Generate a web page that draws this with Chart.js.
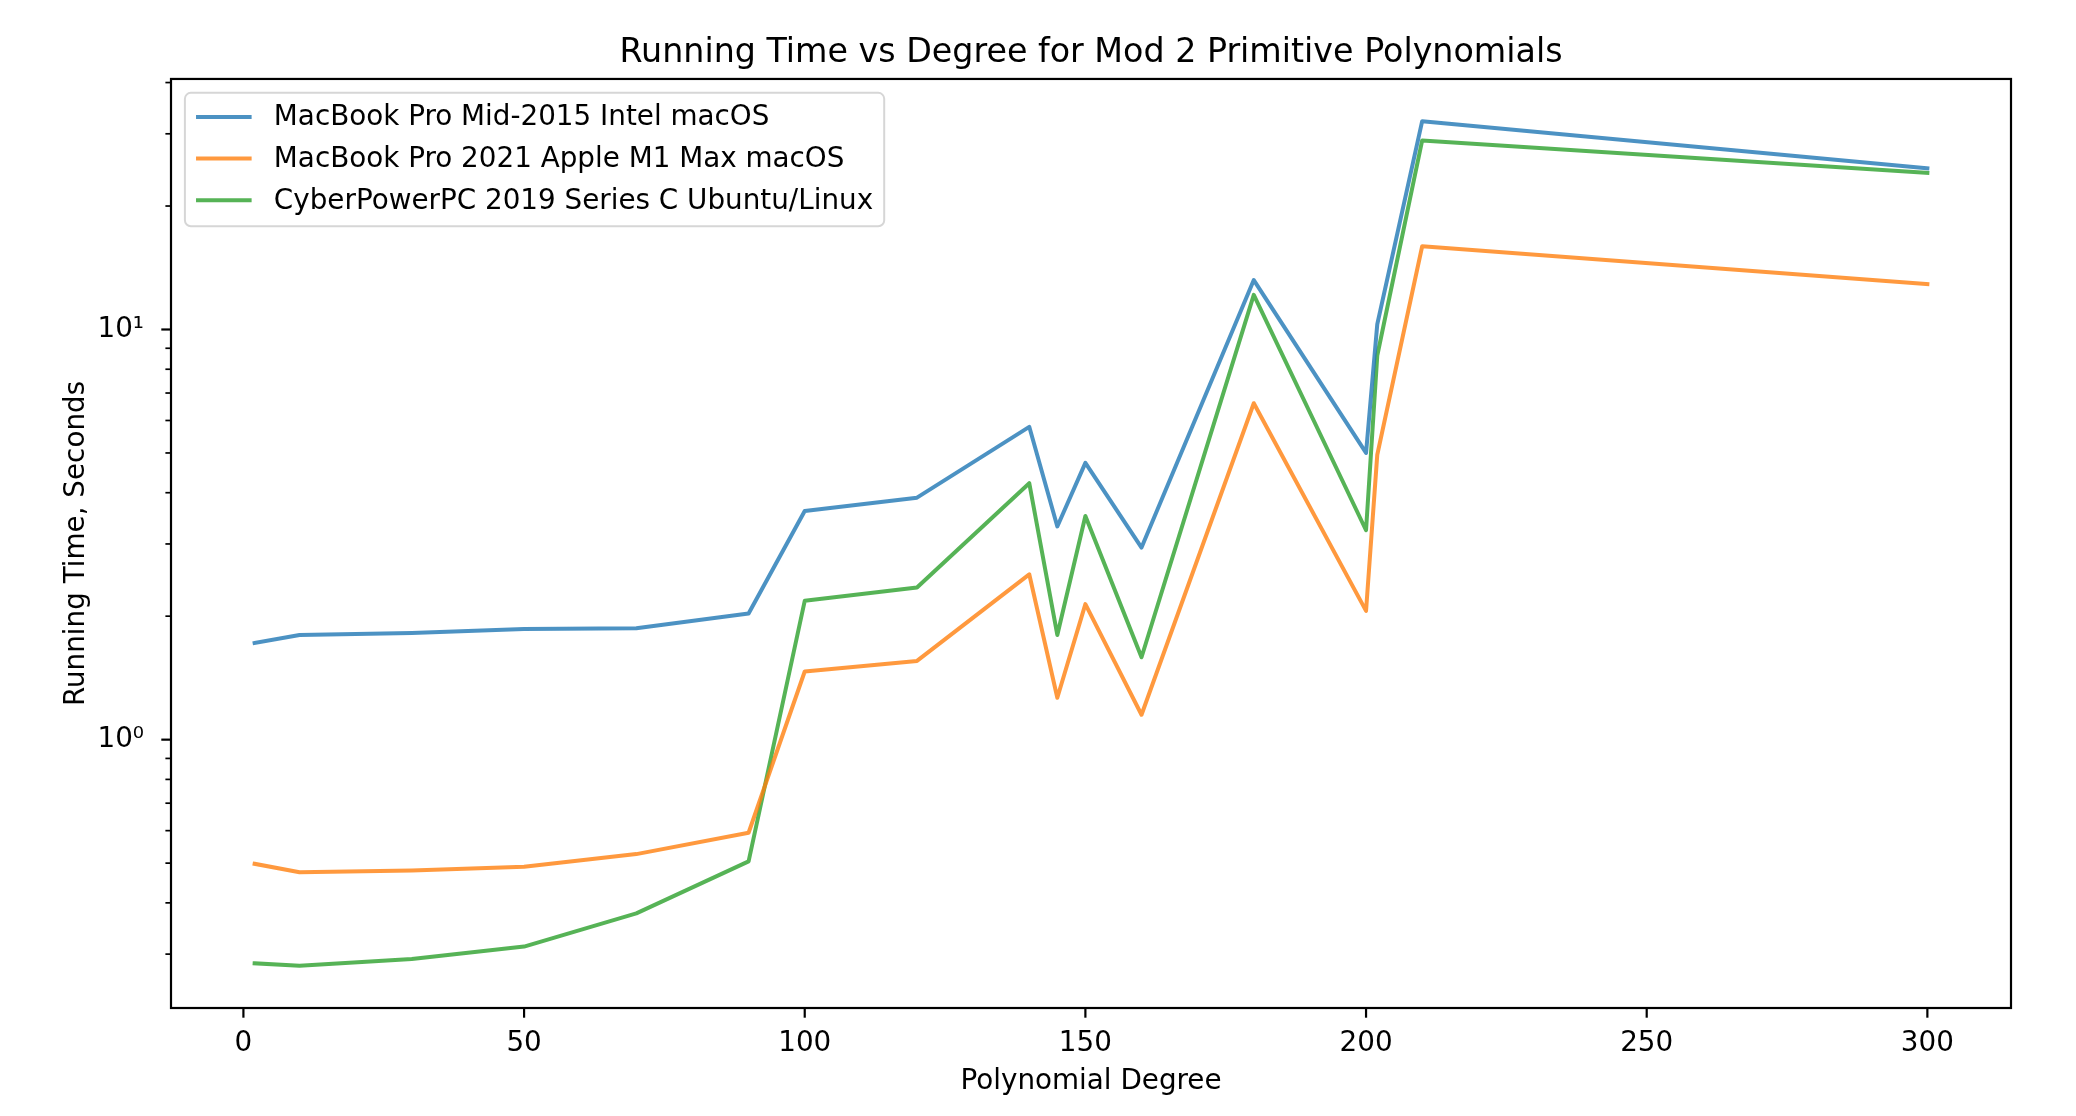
<!DOCTYPE html>
<html>
<head>
<meta charset="utf-8">
<title>Running Time vs Degree</title>
<script src="https://cdn.jsdelivr.net/npm/chart.js@4.4.0/dist/chart.umd.min.js"></script>
<style>
    html, body { margin: 0; padding: 0; background: #ffffff; }
</style>
</head>
<body>
<canvas id="runChart" width="2076" height="1116"></canvas>
<script>
// Polynomial degrees that were timed
const degrees = [2, 10, 30, 50, 70, 90, 100, 120, 140, 145, 150, 160, 180, 200, 202, 210, 300];

// Running times in seconds, one array per machine
const intelTimes = [1.72, 1.80, 1.82, 1.86, 1.87, 2.03, 3.61, 3.89, 5.79, 3.31, 4.73, 2.94, 13.2, 5.00, 10.3, 32.2, 24.7];
const m1Times = [0.498, 0.475, 0.480, 0.490, 0.526, 0.593, 1.466, 1.556, 2.53, 1.265, 2.14, 1.15, 6.61, 2.06, 4.95, 15.96, 12.9];
const linuxTimes = [0.285, 0.281, 0.292, 0.313, 0.377, 0.505, 2.18, 2.35, 4.22, 1.80, 3.51, 1.588, 12.15, 3.24, 8.64, 28.9, 24.1];

const seriesLabels = [
    'MacBook Pro Mid-2015 Intel macOS',
    'MacBook Pro 2021 Apple M1 Max macOS',
    'CyberPowerPC 2019 Series C Ubuntu/Linux'
];

// Tick positions and labels
const xTickValues = [0, 50, 100, 150, 200, 250, 300];
const yTickValues = [0.3, 0.4, 0.5, 0.6, 0.7, 0.8, 0.9, 1, 2, 3, 4, 5, 6, 7, 8, 9, 10, 20, 30, 40];
const yMajorValues = [1, 10];
const yMajorLabels = ['10⁰', '10¹'];

const FONT = '"DejaVu Sans", "Liberation Sans", sans-serif';
const FS = 27.8; // 10pt at 200 dpi

const colors = ['rgba(31, 119, 180, 0.8)', 'rgba(255, 127, 14, 0.8)', 'rgba(44, 160, 44, 0.8)'];

// matplotlib style 5% margins (log space for y)
const allTimes = intelTimes.concat(m1Times, linuxTimes);
const xSpan = Math.max(...degrees) - Math.min(...degrees);
const xMin = Math.min(...degrees) - 0.05 * xSpan;
const xMax = Math.max(...degrees) + 0.05 * xSpan;
const lMin = Math.log10(Math.min(...allTimes));
const lMax = Math.log10(Math.max(...allTimes));
const yMin = Math.pow(10, lMin - 0.05 * (lMax - lMin));
const yMax = Math.pow(10, lMax + 0.05 * (lMax - lMin));

function toPoints(values) {
    return degrees.map((d, i) => ({ x: d, y: values[i] }));
}

// Frame and tick marks drawn like matplotlib spines
const frameTicks = {
    id: 'frameTicks',
    afterDatasetsDraw(chart) {
        const { ctx, chartArea, scales } = chart;
        ctx.save();
        ctx.strokeStyle = '#000';
        ctx.lineWidth = 2.2;
        ctx.strokeRect(chartArea.left, chartArea.top, chartArea.right - chartArea.left, chartArea.bottom - chartArea.top);

        scales.x.ticks.forEach(t => {
            const x = scales.x.getPixelForValue(t.value);
            ctx.beginPath();
            ctx.moveTo(x, chartArea.bottom);
            ctx.lineTo(x, chartArea.bottom + 9.7);
            ctx.stroke();
        });
        scales.y.ticks.forEach(t => {
            const y = scales.y.getPixelForValue(t.value);
            const major = yMajorValues.includes(t.value);
            ctx.lineWidth = major ? 2.2 : 1.7;
            ctx.beginPath();
            ctx.moveTo(chartArea.left, y);
            ctx.lineTo(chartArea.left - (major ? 9.7 : 5.6), y);
            ctx.stroke();
        });
        ctx.restore();
    }
};

// Legend inside the upper left corner
const insideLegend = {
    id: 'insideLegend',
    afterDraw(chart) {
        const { ctx, chartArea } = chart;
        const sets = chart.data.datasets;
        ctx.save();
        ctx.font = FS + 'px ' + FONT;
        const pad = 0.4 * FS, handle = 2 * FS, gap = 0.8 * FS, rowH = 1.5 * FS;
        const textW = Math.max(...sets.map(s => ctx.measureText(s.label).width));
        const x0 = chartArea.left + 0.5 * FS;
        const y0 = chartArea.top + 0.5 * FS;
        const w = pad + handle + gap + textW + pad;
        const h = 2 * pad + sets.length * rowH - (rowH - FS);

        ctx.fillStyle = 'rgba(255,255,255,0.8)';
        ctx.strokeStyle = '#d6d6d6';
        ctx.lineWidth = 2;
        ctx.beginPath();
        ctx.roundRect(x0, y0, w, h, 6);
        ctx.fill();
        ctx.stroke();

        ctx.textBaseline = 'middle';
        ctx.textAlign = 'left';
        sets.forEach((s, i) => {
            const cy = y0 + pad + FS / 2 + i * rowH - 1;
            ctx.strokeStyle = s.borderColor;
            ctx.lineWidth = 4;
            ctx.lineCap = 'butt';
            ctx.beginPath();
            ctx.moveTo(x0 + pad, cy);
            ctx.lineTo(x0 + pad + handle, cy);
            ctx.stroke();
            ctx.fillStyle = '#000';
            ctx.fillText(s.label, x0 + pad + handle + gap, cy + 1);
        });
        ctx.restore();
    }
};

const config = {
    type: 'line',
    data: {
        datasets: [intelTimes, m1Times, linuxTimes].map((vals, i) => ({
            label: seriesLabels[i],
            data: toPoints(vals),
            borderColor: colors[i],
            backgroundColor: colors[i],
            borderWidth: 4,
            borderJoinStyle: 'round',
            borderCapStyle: 'square',
            pointRadius: 0,
            fill: false,
            tension: 0
        }))
    },
    options: {
        responsive: false,
        animation: false,
        devicePixelRatio: 1,
        layout: { padding: { left: 0, right: 65, top: 0, bottom: 0 } },
        plugins: {
            legend: { display: false },
            tooltip: { enabled: false },
            title: {
                display: true,
                text: 'Running Time vs Degree for Mod 2 Primitive Polynomials',
                fullSize: false,
                color: '#000',
                font: { family: FONT, size: 33.3, weight: 'normal', lineHeight: 1.2 },
                padding: { top: 33, bottom: 6 }
            }
        },
        scales: {
            x: {
                type: 'linear',
                min: xMin,
                max: xMax,
                grid: { display: false },
                border: { display: false },
                afterBuildTicks: s => { s.ticks = xTickValues.map(v => ({ value: v })); },
                afterFit: s => { s.height = 108; },
                ticks: {
                    color: '#000',
                    padding: 11,
                    maxRotation: 0,
                    autoSkip: false,
                    font: { family: FONT, size: FS },
                    callback: v => String(v)
                },
                title: {
                    display: true,
                    text: 'Polynomial Degree',
                    color: '#000',
                    font: { family: FONT, size: FS },
                    padding: { top: 0, bottom: 18 }
                }
            },
            y: {
                type: 'logarithmic',
                min: yMin,
                max: yMax,
                grid: { display: false },
                border: { display: false },
                afterBuildTicks: s => { s.ticks = yTickValues.map(v => ({ value: v, major: yMajorValues.includes(v) })); },
                afterFit: s => { s.width = 171; },
                ticks: {
                    color: '#000',
                    padding: 19,
                    autoSkip: false,
                    font: { family: FONT, size: FS },
                    callback: v => {
                        const k = yMajorValues.indexOf(v);
                        return k >= 0 ? yMajorLabels[k] : '';
                    }
                },
                title: {
                    display: true,
                    text: 'Running Time, Seconds',
                    color: '#000',
                    font: { family: FONT, size: FS },
                    padding: { top: 60, bottom: 0 }
                }
            }
        }
    },
    plugins: [frameTicks, insideLegend]
};

const runChart = new Chart(document.getElementById('runChart'), config);
</script>
</body>
</html>
